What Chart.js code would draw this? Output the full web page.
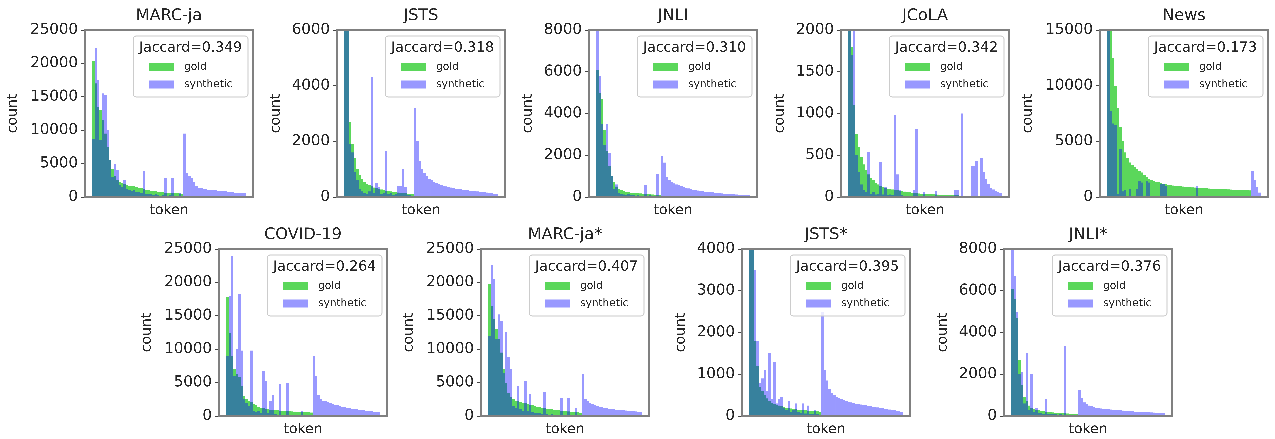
<!DOCTYPE html>
<html>
<head>
<meta charset="utf-8">
<script src="https://cdn.jsdelivr.net/npm/chart.js@4.4.1/dist/chart.umd.min.js"></script>
<style>
  html, body { margin: 0; padding: 0; background: #fff; overflow: hidden; }
  body { width: 1275px; height: 439px; position: relative; }
  canvas { position: absolute; }
</style>
</head>
<body>
<script>
// panel names, Jaccard scores and y limits
const titles = ['MARC-ja', 'JSTS', 'JNLI', 'JCoLA', 'News', 'COVID-19', 'MARC-ja*', 'JSTS*', 'JNLI*'];
const jaccard = ['0.349', '0.318', '0.310', '0.342', '0.173', '0.264', '0.407', '0.395', '0.376'];
const yMax = [25000, 6000, 8000, 2000, 15000, 25000, 25000, 4000, 8000];
const yStep = [5000, 2000, 2000, 500, 5000, 5000, 5000, 1000, 2000];

// token counts, gold tokens sorted by frequency, synthetic on the same token axis
const marcjaGold = [20300, 17000, 13500, 13000, 11500, 9500, 7500, 5500, 4200, 3200, 2600, 2300, 2100, 1900, 1800, 1700, 1650, 1600, 1500, 1400,
  1300, 1200, 1100, 1000, 950, 900, 850, 800, 750, 700, 650, 620, 600, 580, 560, 540, 520, 500];
const marcjaSynth = [8700, 22300, 17500, 8500, 15500, 15300, 10000, 5500, 3000, 5000, 4000, 1800, 1500, 2500, 1200, 1000, 900, 1000, 800, 700,
  600, 3900, 500, 400, 500, 300, 400, 300, 200, 300, 2900, 200, 250, 2800, 200, 100, 600, 100,
  9500, 3600, 3200, 2800, 2200, 1600, 1400, 1300, 1200, 1200, 1100, 1100, 1000, 1000, 950, 900, 900, 850, 800, 750, 700, 650, 650, 600, 550, 550];

const jstsGold = [20000, 9000, 2700, 1900, 1400, 1000, 800, 650, 550, 480, 420, 380, 340, 310, 290, 270, 250, 230, 215, 200,
  185, 170, 160, 150, 140, 130, 120, 110, 100];
const jstsSynth = [20000, 8000, 1900, 1600, 900, 600, 300, 200, 150, 100, 200, 4300, 150, 500, 350, 100, 150, 1650, 100, 150,
  80, 100, 400, 400, 1000, 350, 80, 60, 50,
  3200, 2000, 1300, 1000, 850, 740, 660, 600, 550, 500, 460, 430, 400, 380, 360, 340, 320, 300, 290, 280,
  265, 250, 240, 230, 220, 210, 200, 190, 180, 170, 160, 150, 140, 120, 100];

const jnliGold = [6100, 5000, 4700, 3200, 2200, 1500, 1000, 700, 500, 400, 330, 280, 250, 230, 210, 200, 190, 180, 170, 160,
  150, 140, 130, 120, 110, 100, 90];
const jnliSynth = [9000, 5800, 3500, 2500, 3500, 2100, 1000, 400, 600, 200, 150, 120, 100, 150, 80, 100, 60, 80, 50, 60,
  560, 40, 80, 50, 30, 1100, 40,
  1950, 1650, 950, 800, 720, 650, 600, 560, 520, 480, 440, 410, 380, 350, 330, 310, 290, 270, 250, 240,
  230, 220, 200, 190, 180, 170, 160, 150, 145, 140, 130, 120, 115, 110, 105, 100, 95];

const jcolaGold = [3000, 1800, 1100, 750, 600, 480, 390, 320, 270, 230, 200, 170, 150, 135, 120, 110, 100, 95, 90, 85,
  80, 75, 70, 65, 60, 55, 50, 47, 44, 42, 40, 38, 36, 34, 32, 31, 30, 29, 28, 27, 26, 25, 25, 24, 24, 23];
const jcolaSynth = [2500, 1700, 2100, 500, 300, 150, 80, 60, 540, 40, 60, 30, 40, 420, 30, 120, 20, 30, 20, 980,
  270, 80, 20, 10, 0, 10, 0, 80, 810, 0, 10, 60, 0, 0, 10, 0, 70, 0, 0, 0, 0, 0, 0, 0, 80, 80,
  0, 1000, 0, 0, 0, 370, 370, 430, 0, 470, 300, 220, 160, 110, 90, 70, 60, 50];

const newsGold = [16000, 15500, 12500, 10000, 8000, 6300, 5000, 4000, 3500, 3100, 2900, 2700, 2500, 2350, 2200, 2000, 1800, 1650, 1550, 1450,
  1380, 1320, 1260, 1200, 1150, 1100, 1060, 1030, 1000, 980, 960, 940, 920, 900, 880, 860, 850, 830, 820, 800,
  790, 780, 760, 750, 740, 730, 720, 710, 700, 690, 680, 670, 660, 650, 640, 630, 620, 610, 600, 590];
const newsSynth = [16000, 7700, 6600, 6500, 300, 4300, 500, 600, 0, 700, 0, 0, 700, 1400, 1300, 0, 1400, 1300, 0, 0,
  0, 0, 1200, 1200, 1000, 0, 0, 0, 0, 0, 0, 0, 0, 0, 0, 0, 0, 1000, 0, 0,
  0, 0, 0, 0, 0, 0, 0, 0, 0, 0, 0, 0, 0, 0, 0, 0, 0, 0, 0, 0,
  2300, 1500, 900, 400];

const covidGold = [17800, 12400, 9000, 7000, 6300, 5800, 4500, 3000, 2500, 2300, 2100, 1800, 1600, 1400, 1250, 1150, 1050, 1000, 950, 900,
  870, 840, 810, 780, 750, 720, 700, 680, 660, 640, 620, 600, 580, 560, 540, 520];
const covidSynth = [9000, 18000, 24000, 6000, 10000, 18300, 9800, 2500, 2000, 1500, 9800, 800, 600, 700, 500, 6800, 5200, 400, 2300, 3200,
  300, 200, 4800, 200, 100, 5000, 100, 100, 0, 100, 0, 800, 0, 100, 0, 0,
  9000, 6000, 3200, 2500, 2300, 2200, 2100, 1900, 1800, 1700, 1600, 1500, 1400, 1300, 1250, 1200, 1100, 1050, 1000, 950,
  900, 850, 800, 750, 700, 650, 600, 550];

const marcjaStarGold = [19700, 16500, 14500, 13000, 11500, 9500, 7000, 5000, 3500, 2800, 2500, 2300, 2200, 2100, 2000, 1900, 1800, 1700, 1600, 1500,
  1400, 1300, 1200, 1150, 1100, 1050, 1000, 950, 900, 850, 800, 760, 720, 680, 640, 600, 570, 540, 510];
const marcjaStarSynth = [12000, 22600, 20500, 11500, 15200, 14200, 6500, 12600, 8800, 7000, 1500, 1200, 4500, 1000, 800, 5300, 700, 3300, 600, 500,
  400, 500, 300, 3600, 300, 200, 300, 200, 100, 200, 2700, 100, 100, 2700, 100, 100, 1200, 100, 50,
  6300, 2500, 2200, 2000, 1800, 1650, 1500, 1400, 1300, 1200, 1150, 1100, 1050, 1000, 950, 920, 900, 860, 820, 780,
  750, 720, 680, 640, 600];

const jstsStarGold = [6000, 5000, 1800, 1200, 700, 600, 500, 420, 360, 320, 290, 270, 250, 230, 215, 200, 190, 180, 170, 160,
  150, 145, 140, 135, 130, 125, 120, 115, 110, 105];
const jstsStarSynth = [6000, 5000, 3500, 1800, 800, 900, 1100, 600, 1500, 400, 1300, 300, 400, 450, 200, 150, 350, 100, 150, 300,
  100, 80, 300, 60, 250, 50, 40, 150, 40, 30,
  2500, 1100, 850, 650, 560, 500, 460, 430, 400, 380, 360, 340, 325, 310, 295, 285, 275, 265, 255, 245,
  235, 225, 215, 205, 195, 185, 175, 165, 155, 145, 135, 125, 110, 100];

const jnliStarGold = [6100, 5600, 4700, 2700, 1500, 900, 700, 500, 400, 340, 300, 270, 250, 230, 210, 195, 180, 170, 160, 150,
  140, 130, 125, 120, 115, 110, 105, 100];
const jnliStarSynth = [9000, 6700, 5000, 2000, 2100, 600, 3000, 300, 2000, 200, 400, 150, 150, 100, 800, 100, 100, 80, 100, 60,
  80, 60, 3350, 50, 40, 50, 30, 40,
  1250, 850, 650, 560, 500, 460, 430, 400, 380, 360, 345, 330, 320, 310, 300, 290, 280, 270, 260, 250,
  240, 230, 220, 210, 200, 195, 190, 185, 180, 175, 170, 165, 160, 155, 150, 140];

const goldSeries = [marcjaGold, jstsGold, jnliGold, jcolaGold, newsGold, covidGold, marcjaStarGold, jstsStarGold, jnliStarGold];
const synthSeries = [marcjaSynth, jstsSynth, jnliSynth, jcolaSynth, newsSynth, covidSynth, marcjaStarSynth, jstsStarSynth, jnliStarSynth];

// where each plot area sits on the page (left, top)
const origins = [[85, 30], [337, 30], [589, 30], [841, 30], [1100, 30], [219, 249], [481, 249], [742, 249], [1004, 249]];
const PLOT_W = 168, PLOT_H = 167, Y_W = 95, TITLE_H = 30, X_H = 26, PAD_R = 4;
const GOLD = 'rgba(50,205,50,0.8)';
const SYNTH = 'rgba(0,0,255,0.4)';
const INK = '#262626';
const FONT = '"DejaVu Sans", sans-serif';
// drawn at 5x so that the 2.4px wide bars fall on whole pixels and leave no seams
const SCALE = 5;

Chart.defaults.font.family = FONT;
Chart.defaults.color = INK;

// grey frame round the axes and the boxed legend with the Jaccard title
const frameAndLegend = {
  id: 'legendBox',
  afterDatasetsDraw(chart, args, opts) {
    const { ctx, chartArea } = chart;
    ctx.save();
    ctx.strokeStyle = '#808080';
    ctx.lineWidth = 2;
    ctx.strokeRect(chartArea.left, chartArea.top, chartArea.right - chartArea.left, chartArea.bottom - chartArea.top);

    const title = 'Jaccard=' + opts.score;
    ctx.font = '14px ' + FONT;
    const w = ctx.measureText(title).width + 12;
    const h = 61;
    const x = chartArea.right - 5 - w;
    const y = chartArea.top + 6;
    ctx.beginPath();
    ctx.roundRect(x, y, w, h, 3);
    ctx.fillStyle = 'rgba(255,255,255,0.8)';
    ctx.fill();
    ctx.strokeStyle = '#cccccc';
    ctx.lineWidth = 1;
    ctx.stroke();

    ctx.fillStyle = INK;
    ctx.textBaseline = 'middle';
    ctx.textAlign = 'center';
    ctx.fillText(title, x + w / 2, y + 12);

    ctx.font = '10.5px ' + FONT;
    ctx.textAlign = 'left';
    chart.data.datasets.forEach((ds, k) => {
      const cy = y + 31 + k * 17.5;
      ctx.fillStyle = ds.backgroundColor;
      ctx.fillRect(x + 16, cy - 4, 25, 8);
      ctx.fillStyle = INK;
      ctx.fillText(ds.label, x + 51, cy);
    });
    ctx.restore();
  }
};

titles.forEach((name, p) => {
  const [left, top] = origins[p];
  const canvas = document.createElement('canvas');
  canvas.width = Y_W + PLOT_W + PAD_R;
  canvas.height = TITLE_H + PLOT_H + X_H;
  canvas.style.left = (left - Y_W) + 'px';
  canvas.style.top = (top - TITLE_H) + 'px';
  document.body.appendChild(canvas);

  const gold = goldSeries[p];
  const synth = synthSeries[p];
  const n = synth.length;
  // 2.4px per token across the 168px plot, the rest is side margin
  const margin = (PLOT_W / 2.4 - n) / 2;
  const labelGap = String(yMax[p]).length === 5 ? 72 : 61;

  new Chart(canvas, {
    type: 'bar',
    data: {
      datasets: [
        { label: 'gold', data: gold.map((v, i) => ({ x: i, y: v })), backgroundColor: GOLD, order: 2 },
        { label: 'synthetic', data: synth.map((v, i) => ({ x: i, y: v })), backgroundColor: SYNTH, order: 1 }
      ]
    },
    options: {
      responsive: false,
      animation: false,
      devicePixelRatio: SCALE,
      layout: { padding: { right: PAD_R } },
      datasets: {
        bar: { grouped: false, barPercentage: 1, categoryPercentage: 1, borderWidth: 0, inflateAmount: 0 }
      },
      scales: {
        x: {
          type: 'linear',
          offset: false,
          min: -0.5 - margin,
          max: n - 0.5 + margin,
          ticks: { display: false },
          grid: { display: false },
          border: { display: false },
          title: { display: true, text: 'token', font: { size: 14 }, padding: { top: 0, bottom: 4 } },
          afterFit: s => { s.height = X_H; }
        },
        y: {
          min: 0,
          max: yMax[p],
          ticks: { stepSize: yStep[p], font: { size: 15 }, padding: 3, callback: v => String(v) },
          grid: { drawOnChartArea: false, tickLength: 4, color: '#444' },
          border: { display: false },
          title: { display: true, text: 'count', font: { size: 14 }, padding: { top: Y_W - labelGap - 8.4, bottom: 0 } },
          afterFit: s => { s.width = Y_W; }
        }
      },
      plugins: {
        legend: { display: false },
        tooltip: { enabled: false },
        title: {
          display: true, text: name, fullSize: false, color: INK,
          font: { size: 16, weight: 'normal', lineHeight: 1.25 },
          padding: { top: 6, bottom: 4 }
        },
        legendBox: { score: jaccard[p] }
      }
    },
    plugins: [frameAndLegend]
  });
});
</script>
</body>
</html>
